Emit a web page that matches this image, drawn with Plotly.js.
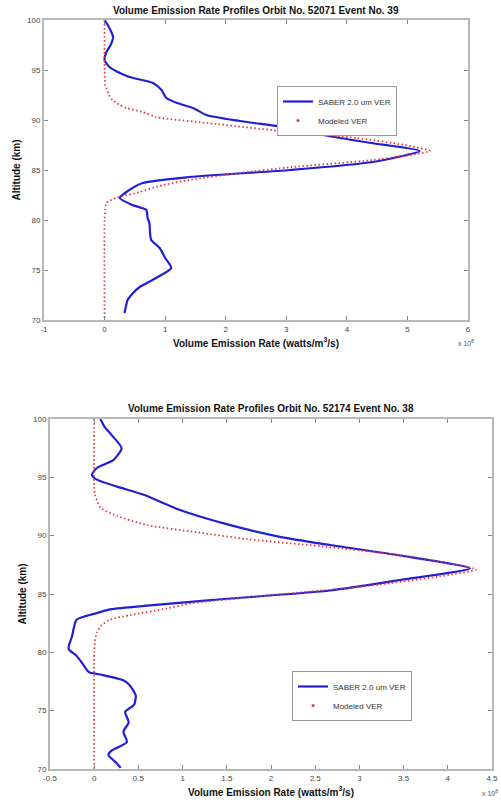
<!DOCTYPE html>
<html>
<head>
<meta charset="utf-8">
<script src="https://cdn.plot.ly/plotly-3.0.1.min.js"></script>
<style>html,body{margin:0;padding:0;background:#fff;}#chart{width:501px;height:805px;}</style>
</head>
<body>
<div id="chart"></div>
<script>
// ---------- Panel 1: Orbit 52071 Event 39 ----------
const saber1Alt = [100,99.2,98.3,97.5,96.8,96,95.3,94.8,94.3,93.7,93,92.2,91.7,91.2,90.5,89.9,89.2,88.5,87.7,86.9,85.8,85,84.3,83.7,82.8,82.2,81.5,81,80.2,79.7,78.8,78,77.2,76.2,75.2,74.2,73.3,72.7,72,71.3,70.7];
const saber1Val = [0,0.08,0.14,0.1,0.03,0,0.08,0.22,0.41,0.8,0.94,1.02,1.2,1.46,1.68,2.23,3.06,3.6,4.4,5.2,4.43,3.06,1.4,0.63,0.36,0.25,0.46,0.69,0.71,0.74,0.75,0.77,0.91,1.0,1.1,0.85,0.58,0.47,0.38,0.35,0.33];
const model1Alt = [100,95,93.5,93.2,92.5,92,91.5,91.2,90.8,90.3,89.6,88.8,88.2,87.5,86.9,86,85.3,84.7,84,83.4,82.8,82.2,81.7,81,80,70];
const model1Val = [0,0,0.01,0.03,0.07,0.13,0.25,0.36,0.63,0.85,1.85,3.06,4.16,4.95,5.37,4.43,3.1,2.23,1.4,0.9,0.58,0.19,0.03,0.01,0,0];
const title1 = "Volume Emission Rate Profiles Orbit No. 52071 Event No. 39";
const xTicks1 = [-1,0,1,2,3,4,5,6];

// ---------- Panel 2: Orbit 52174 Event 38 ----------
const saber2Alt = [100,99.3,98.6,97.5,96.5,95.8,95.2,94.8,94.2,93.5,92.2,90.9,89.9,89.2,88.3,87.2,86.2,85.3,84.5,84,83.7,83.3,82.8,81.4,80.3,79.7,78.9,78.3,78.1,77.6,77.1,76.3,75.5,74.9,74,73.2,72.3,71.6,71.2,70.6,70.1];
const saber2Val = [0.07,0.12,0.2,0.31,0.22,0.03,-0.026,0.03,0.26,0.56,0.97,1.54,2.1,2.67,3.46,4.25,3.46,2.67,1.35,0.6,0.2,0.0,-0.2,-0.25,-0.29,-0.2,-0.12,-0.06,0.07,0.33,0.41,0.47,0.45,0.35,0.39,0.33,0.37,0.2,0.16,0.24,0.3];
const model2Alt = [100,94,93.5,92.4,91.8,90.9,90.3,89.7,89.1,88.3,87.5,87.1,86.5,85.7,84.7,84.2,83.7,83.2,82.8,82.3,81.7,81,80,70];
const model2Val = [0,0,0.01,0.07,0.22,0.6,1.16,1.73,2.56,3.5,4.1,4.32,3.9,3.1,1.73,1.1,0.78,0.41,0.18,0.08,0.03,0.01,0,0];
const title2 = "Volume Emission Rate Profiles Orbit No. 52174 Event No. 38";
const xTicks2 = [-0.5,0,0.5,1,1.5,2,2.5,3,3.5,4,4.5];

const yTicks = [70,75,80,85,90,95,100];
const saberName = "SABER 2.0 um VER";
const modelName = "Modeled VER";
const xTitle = "Volume Emission Rate (watts/m<sup>3</sup>/s)";
const yTitle = "Altitude (km)";
const expLabel = "x 10<sup>8</sup>";

const BLUE = "#1f1fd6";
const RED = "#e8333a";
const FONT = "Liberation Sans, Arial, sans-serif";

function saberTrace(x, y, xa, ya, lg) {
  return {x: x, y: y, xaxis: xa, yaxis: ya, mode: "lines", name: saberName, legend: lg,
    line: {color: BLUE, width: 2.2, shape: "spline", smoothing: 0.6}};
}
function modelTrace(x, y, xa, ya) {
  return {x: x, y: y, xaxis: xa, yaxis: ya, mode: "lines", name: modelName, showlegend: false,
    line: {color: RED, width: 1.8, dash: "1.5px,2.5px", shape: "spline", smoothing: 0.6}};
}
function modelLegend(xa, ya, lg) {
  return {x: [null], y: [null], xaxis: xa, yaxis: ya, mode: "markers", name: modelName, legend: lg,
    marker: {color: RED, size: 3}};
}

const data = [
  saberTrace(saber1Val, saber1Alt, "x", "y", "legend"),
  modelTrace(model1Val, model1Alt, "x", "y"),
  modelLegend("x", "y", "legend"),
  saberTrace(saber2Val, saber2Alt, "x2", "y2", "legend2"),
  modelTrace(model2Val, model2Alt, "x2", "y2"),
  modelLegend("x2", "y2", "legend2")
];

function xAxis(dom, range, ticks, anchor) {
  return {domain: dom, range: range, anchor: anchor, tickvals: ticks, ticktext: ticks.map(String),
    showgrid: false, zeroline: false, showline: true, linecolor: "#b8b8b8", linewidth: 2,
    mirror: "allticks", ticks: "inside", ticklen: 4, tickcolor: "#888", tickwidth: 1,
    tickfont: {family: FONT, size: 8, color: "#444"},
    title: {text: "<b>" + xTitle + "</b>", font: {family: FONT, size: 10, color: "#111"}, standoff: 7}};
}
function yAxis(dom, anchor) {
  return {domain: dom, range: [70, 100], anchor: anchor, tickvals: yTicks,
    showgrid: false, zeroline: false, showline: true, linecolor: "#b8b8b8", linewidth: 2,
    mirror: "allticks", ticks: "inside", ticklen: 4, tickcolor: "#888", tickwidth: 1,
    tickfont: {family: FONT, size: 8, color: "#444"},
    title: {text: "<b>" + yTitle + "</b>", font: {family: FONT, size: 10, color: "#111"}, standoff: 5}};
}

const layout = {
  width: 501, height: 805,
  margin: {l: 0, r: 0, t: 0, b: 0},
  paper_bgcolor: "#fff", plot_bgcolor: "#fff",
  font: {family: FONT},
  showlegend: true,
  xaxis: xAxis([44/501, 468/501], [-1, 6], xTicks1, "y"),
  yaxis: yAxis([1 - 320/805, 1 - 20/805], "x"),
  xaxis2: xAxis([50/501, 492/501], [-0.5, 4.5], xTicks2, "y2"),
  yaxis2: yAxis([1 - 769/805, 1 - 419/805], "x2"),
  legend: {x: 277/501, y: 1 - 86/805, xanchor: "left", yanchor: "top",
    bgcolor: "#fff", bordercolor: "#999", borderwidth: 1,
    font: {family: FONT, size: 8, color: "#333"}, itemwidth: 30, tracegroupgap: 0},
  legend2: {x: 292/501, y: 1 - 671/805, xanchor: "left", yanchor: "top",
    bgcolor: "#fff", bordercolor: "#999", borderwidth: 1,
    font: {family: FONT, size: 8, color: "#333"}, itemwidth: 30, tracegroupgap: 0},
  annotations: [
    {text: "<b>" + title1 + "</b>", xref: "paper", yref: "paper", x: 256/501, y: 1 - 10/805,
      showarrow: false, font: {family: FONT, size: 10, color: "#111"}, xanchor: "center", yanchor: "middle"},
    {text: "<b>" + title2 + "</b>", xref: "paper", yref: "paper", x: 271/501, y: 1 - 408/805,
      showarrow: false, font: {family: FONT, size: 10, color: "#111"}, xanchor: "center", yanchor: "middle"},
    {text: expLabel, xref: "paper", yref: "paper", x: 466/501, y: 1 - 343/805,
      showarrow: false, font: {family: FONT, size: 7, color: "#555"}, xanchor: "center", yanchor: "middle"},
    {text: expLabel, xref: "paper", yref: "paper", x: 490/501, y: 1 - 793/805,
      showarrow: false, font: {family: FONT, size: 7, color: "#555"}, xanchor: "center", yanchor: "middle"}
  ]
};

Plotly.newPlot("chart", data, layout, {staticPlot: true, displayModeBar: false});
</script>
</body>
</html>
